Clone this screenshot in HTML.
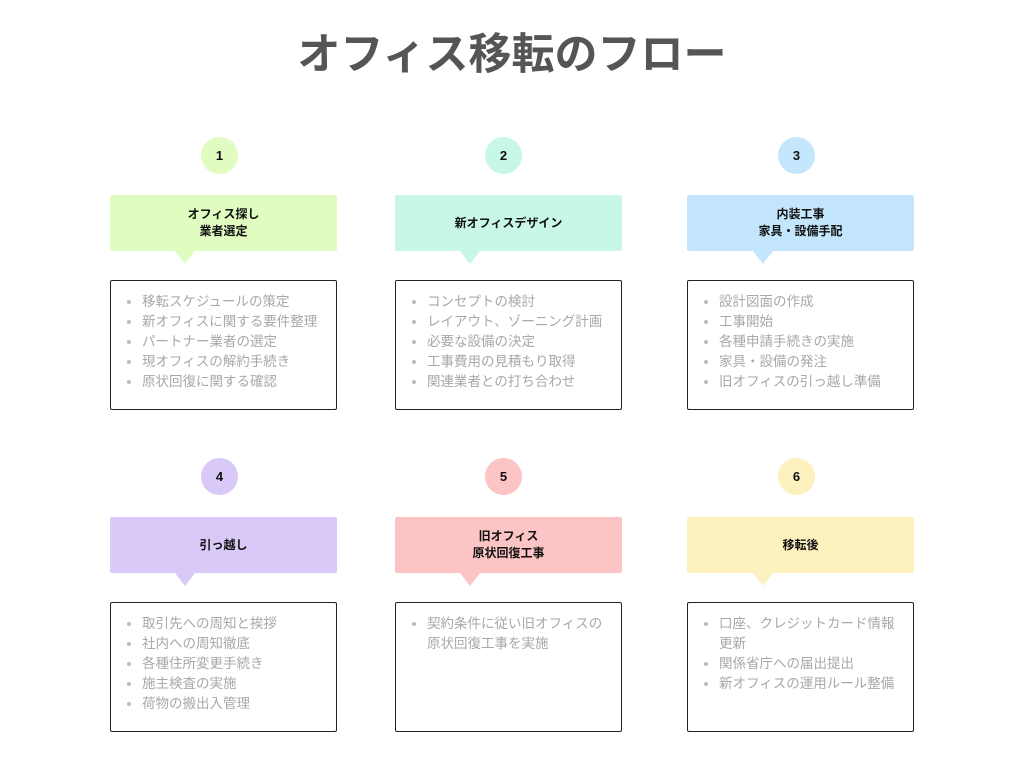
<!DOCTYPE html>
<html><head><meta charset="utf-8"><style>
body{margin:0;width:1024px;height:768px;background:#fff;position:relative;overflow:hidden;font-family:"Liberation Sans","Noto Sans CJK JP",sans-serif}
.t{position:absolute;left:0;width:1024px;top:29px;text-align:center;font-size:43px;font-weight:bold;color:#555;line-height:52px}
.c{position:absolute;width:37px;height:37px;border-radius:50%;text-align:center;line-height:37px;font-size:13px;font-weight:bold;color:#111}
.h{position:absolute;width:227px;height:56px;border-radius:2px;display:flex;align-items:center;justify-content:center;text-align:center;font-size:12px;font-weight:bold;color:#111;line-height:17px}
.tri{position:absolute;width:0;height:0;border-left:10px solid transparent;border-right:10px solid transparent;border-top:13px solid}
.b{position:absolute;width:225px;height:128px;border:1px solid #222;border-radius:2px;box-sizing:content-box}
.b ul{margin:0;padding:11px 0 0 31px;font-size:13.5px;line-height:20px;color:#a8a8a8}
.b li::marker{color:#bbb}
</style></head><body>
<div class="t">オフィス移転のフロー</div>

<div class="c" style="left:201px;top:137px;background:#e0fcc0">1</div>
<div class="h" style="left:110px;top:195px;background:#e0fcc0">オフィス探し<br>業者選定</div>
<div class="tri" style="left:175px;top:251px;border-top-color:#e0fcc0"></div>
<div class="b" style="left:110px;top:280px"><ul><li>移転スケジュールの策定</li><li>新オフィスに関する要件整理</li><li>パートナー業者の選定</li><li>現オフィスの解約手続き</li><li>原状回復に関する確認</li></ul></div>

<div class="c" style="left:485px;top:137px;background:#c8f7e6">2</div>
<div class="h" style="left:395px;top:195px;background:#c8f7e6">新オフィスデザイン</div>
<div class="tri" style="left:460px;top:251px;border-top-color:#c8f7e6"></div>
<div class="b" style="left:395px;top:280px"><ul><li>コンセプトの検討</li><li>レイアウト、ゾーニング計画</li><li>必要な設備の決定</li><li>工事費用の見積もり取得</li><li>関連業者との打ち合わせ</li></ul></div>

<div class="c" style="left:778px;top:137px;background:#c4e6fc">3</div>
<div class="h" style="left:687px;top:195px;background:#c4e6fc">内装工事<br>家具・設備手配</div>
<div class="tri" style="left:753px;top:251px;border-top-color:#c4e6fc"></div>
<div class="b" style="left:687px;top:280px"><ul><li>設計図面の作成</li><li>工事開始</li><li>各種申請手続きの実施</li><li>家具・設備の発注</li><li>旧オフィスの引っ越し準備</li></ul></div>

<div class="c" style="left:201px;top:458px;background:#d9c9f8">4</div>
<div class="h" style="left:110px;top:517px;background:#d9c9f8">引っ越し</div>
<div class="tri" style="left:175px;top:573px;border-top-color:#d9c9f8"></div>
<div class="b" style="left:110px;top:602px"><ul><li>取引先への周知と挨拶</li><li>社内への周知徹底</li><li>各種住所変更手続き</li><li>施主検査の実施</li><li>荷物の搬出入管理</li></ul></div>

<div class="c" style="left:485px;top:458px;background:#fcc4c4">5</div>
<div class="h" style="left:395px;top:517px;background:#fcc4c4">旧オフィス<br>原状回復工事</div>
<div class="tri" style="left:460px;top:573px;border-top-color:#fcc4c4"></div>
<div class="b" style="left:395px;top:602px"><ul><li>契約条件に従い旧オフィスの<br>原状回復工事を実施</li></ul></div>

<div class="c" style="left:778px;top:458px;background:#fdf1c0">6</div>
<div class="h" style="left:687px;top:517px;background:#fdf1c0">移転後</div>
<div class="tri" style="left:753px;top:573px;border-top-color:#fdf1c0"></div>
<div class="b" style="left:687px;top:602px"><ul><li>口座、クレジットカード情報<br>更新</li><li>関係省庁への届出提出</li><li>新オフィスの運用ルール整備</li></ul></div>
</body></html>
